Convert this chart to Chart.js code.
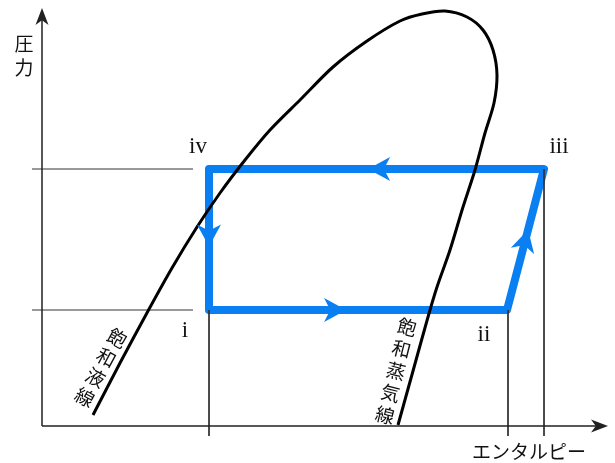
<!DOCTYPE html>
<html>
<head>
<meta charset="utf-8">
<script src="https://cdn.jsdelivr.net/npm/chart.js@4/dist/chart.umd.min.js"></script>
<style>
  body { margin: 0; background: #fff; }
  #wrap { width: 615px; height: 463px; }
</style>
</head>
<body>
<div id="wrap"><canvas id="phChart" width="615" height="463"></canvas></div>
<script>
// 飽和曲線 (エンタルピー, 圧力) — 任意単位
const domeH = [51, 78, 106, 130, 155, 178, 203, 228, 258, 291, 325, 358, 380, 403, 425, 441, 451, 455, 452, 443, 433, 421, 408, 395, 386, 371, 356];
const domeP = [11, 63, 115, 158, 199, 233, 266, 296, 326, 359, 385, 405, 412, 415, 409, 396, 376, 351, 323, 293, 256, 219, 176, 139, 109, 55, 1];

// 冷凍サイクルの状態点
const cycleLabels = ['iv', 'i', 'ii', 'iii'];
const cycleH = [167, 167, 465, 502];
const cycleP = [257, 116, 116, 257];

// 軸の範囲
const H_MAX = 566;
const P_MAX = 418;

const BLUE = '#0a7ff2';

const toPoints = (xs, ys) => xs.map((x, i) => ({ x: x, y: ys[i] }));

const cyclePts = toPoints(cycleH, cycleP);
cyclePts.push({ x: cycleH[0], y: cycleP[0] });

function guide(pts) {
    return {
        data: pts,
        showLine: true,
        borderColor: '#333',
        borderWidth: 1,
        pointRadius: 0,
        clip: false,
    };
}

function drawArrowHead(ctx, x, y, angle, len, hw) {
    ctx.save();
    ctx.translate(x, y);
    ctx.rotate(angle);
    ctx.beginPath();
    ctx.moveTo(0, 0);
    ctx.lineTo(-len, -hw);
    ctx.lineTo(-len * 0.72, 0);
    ctx.lineTo(-len, hw);
    ctx.closePath();
    ctx.fill();
    ctx.restore();
}

const decorPlugin = {
    id: 'decor',
    afterDatasetsDraw(chart) {
        const ctx = chart.ctx;
        const xs = chart.scales.x;
        const ys = chart.scales.y;
        const px = (h) => xs.getPixelForValue(h);
        const py = (p) => ys.getPixelForValue(p);

        // 軸
        ctx.save();
        ctx.strokeStyle = '#222';
        ctx.fillStyle = '#222';
        ctx.lineWidth = 1.5;
        ctx.beginPath();
        ctx.moveTo(px(0), py(0));
        ctx.lineTo(px(H_MAX) - 8, py(0));
        ctx.moveTo(px(0), py(0));
        ctx.lineTo(px(0), py(P_MAX) + 8);
        ctx.stroke();
        drawArrowHead(ctx, px(H_MAX), py(0), 0, 17, 6.5);
        drawArrowHead(ctx, px(0), py(P_MAX), -Math.PI / 2, 17, 6.5);
        ctx.restore();

        // サイクルの流れの矢印
        const fractions = [0.55, 0.46, 0.57, 0.525];
        ctx.save();
        ctx.fillStyle = BLUE;
        for (let i = 0; i < 4; i++) {
            const a = cyclePts[i];
            const b = cyclePts[i + 1];
            const x0 = px(a.x), y0 = py(a.y), x1 = px(b.x), y1 = py(b.y);
            const f = fractions[i];
            const ang = Math.atan2(y1 - y0, x1 - x0);
            drawArrowHead(ctx, x0 + (x1 - x0) * f, y0 + (y1 - y0) * f, ang, 22, 12);
        }
        ctx.restore();

        // 文字
        ctx.save();
        ctx.fillStyle = '#111';
        ctx.textAlign = 'center';
        ctx.textBaseline = 'middle';
        ctx.font = '19px "Noto Sans CJK JP"';
        ctx.fillText('圧', 24, 44);
        ctx.fillText('力', 24, 68);
        ctx.fillText('エンタルピー', px(487), py(-26));

        ctx.font = '23px "Liberation Serif"';
        const labelPos = [[156, 279], [143, 95], [442, 91], [517, 279]];
        cycleLabels.forEach((t, i) => {
            ctx.fillText(t, px(labelPos[i][0]), py(labelPos[i][1]));
        });

        ctx.font = '19px "Noto Sans CJK JP"';
        const vert = (text, x, y, dx, dy) => {
            const ang = Math.atan2(-dx, dy);
            [...text].forEach((ch, i) => {
                ctx.save();
                ctx.translate(x + dx * i, y + dy * i);
                ctx.rotate(ang);
                ctx.fillText(ch, 0, 0);
                ctx.restore();
            });
        };
        vert('飽和液線', px(75), py(88), -10.7, 19.7);
        vert('飽和蒸気線', px(365), py(99), -5.5, 22);
        ctx.restore();
    }
};

new Chart(document.getElementById('phChart'), {
    type: 'scatter',
    data: {
        datasets: [
            {
                data: toPoints(domeH, domeP),
                showLine: true,
                borderColor: '#000',
                borderWidth: 3,
                tension: 0.3,
                pointRadius: 0,
                clip: false,
            },
            guide([{ x: -10, y: cycleP[0] }, { x: cycleH[0] - 16, y: cycleP[0] }]),
            guide([{ x: -10, y: cycleP[1] }, { x: cycleH[1] - 16, y: cycleP[1] }]),
            guide([{ x: cycleH[1], y: cycleP[1] }, { x: cycleH[1], y: -10 }]),
            guide([{ x: cycleH[2] + 1, y: cycleP[2] }, { x: cycleH[2] + 1, y: -10 }]),
            guide([{ x: cycleH[3], y: cycleP[3] }, { x: cycleH[3], y: -10 }]),
            {
                data: cyclePts,
                showLine: true,
                borderColor: BLUE,
                borderWidth: 8,
                borderJoinStyle: 'round',
                tension: 0,
                pointRadius: 0,
                clip: false,
            },
        ]
    },
    options: {
        responsive: false,
        animation: false,
        layout: {
            padding: { left: 42, right: 7, top: 8, bottom: 37 }
        },
        plugins: {
            legend: { display: false },
            tooltip: { enabled: false },
        },
        scales: {
            x: { type: 'linear', min: 0, max: H_MAX, display: false },
            y: { type: 'linear', min: 0, max: P_MAX, display: false },
        },
    },
    plugins: [decorPlugin],
});
</script>
</body>
</html>
